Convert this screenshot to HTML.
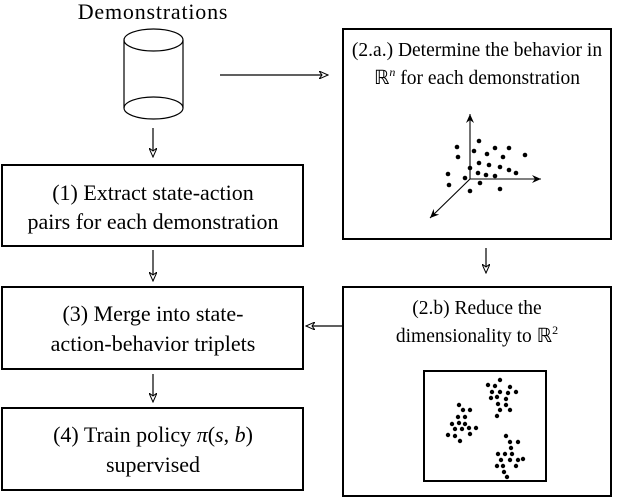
<!DOCTYPE html>
<html><head><style>html,body{margin:0;padding:0;background:#fff}</style></head><body>
<svg width="630" height="498" viewBox="0 0 630 498" xmlns="http://www.w3.org/2000/svg" font-family="Liberation Serif, serif" fill="none" stroke="#000">
<defs><marker id="a" markerWidth="10" markerHeight="8" refX="9" refY="4" orient="auto" markerUnits="userSpaceOnUse"><path d="M0,0 L9,4 L0,8 L3,4 Z" fill="#fff" stroke="#000" stroke-width="1"/></marker>
<marker id="b" markerWidth="10" markerHeight="8" refX="9" refY="4" orient="auto" markerUnits="userSpaceOnUse"><path d="M0,0 L9,4 L0,8 L3,4 Z" fill="#000" stroke="none"/></marker></defs>
<g stroke-width="1.2">
<text x="153" y="19" font-size="22" letter-spacing="0.8" fill="#000" stroke="none" text-anchor="middle">Demonstrations</text>
<path d="M124,40 V108 M183,40 V108" />
<ellipse cx="153.5" cy="40" rx="29.5" ry="11"/>
<path d="M124,108 A29.5,11 0 0 0 183,108"/>
<path d="M124,108 A29.5,11 0 0 1 183,108" />
<line x1="153" y1="128" x2="153" y2="157" marker-end="url(#a)"/>
<line x1="220" y1="75" x2="328" y2="75" marker-end="url(#a)"/>
<line x1="486" y1="248" x2="486" y2="273" marker-end="url(#a)"/>
<line x1="343" y1="326" x2="306" y2="326" marker-end="url(#a)"/>
<line x1="153" y1="250" x2="153" y2="281" marker-end="url(#a)"/>
<line x1="153" y1="374" x2="153" y2="402" marker-end="url(#a)"/>
</g>
<g stroke-width="2">
<rect x="2" y="165" width="301" height="81"/>
<rect x="2" y="287" width="301" height="82"/>
<rect x="2" y="408" width="301" height="82"/>
<rect x="343" y="29" width="268" height="210"/>
<rect x="343" y="287" width="268" height="209"/>
<rect x="424" y="371" width="122" height="110"/>
</g>
<g fill="#000" stroke="none" font-size="22" text-anchor="middle">
<text x="153" y="200">(1) Extract state-action</text>
<text x="153" y="229">pairs for each demonstration</text>
<text x="153" y="321">(3) Merge into state-</text>
<text x="153" y="351">action-behavior triplets</text>
<text x="153" y="442">(4) Train policy <tspan font-style="italic">π</tspan>(<tspan font-style="italic">s</tspan>, <tspan font-style="italic">b</tspan>)</text>
<text x="153" y="472">supervised</text>
<g font-size="19.5">
<text x="477" y="56">(2.a.) Determine the behavior in</text>
<text x="477" y="84">ℝ<tspan font-size="12" dy="-8" font-style="italic">n</tspan><tspan dy="8"> for each demonstration</tspan></text>
<text x="477" y="314">(2.b) Reduce the</text>
<text x="477" y="342">dimensionality to ℝ<tspan font-size="12" dy="-8">2</tspan></text>
</g>
</g>
<g stroke-width="1.1">
<line x1="470" y1="179" x2="470" y2="114" marker-end="url(#b)"/>
<line x1="470" y1="179" x2="541" y2="179" marker-end="url(#b)"/>
<line x1="470" y1="179" x2="430" y2="218" marker-end="url(#b)"/>
</g>
<g fill="#000" stroke="none">
<circle cx="457" cy="147" r="2.3"/><circle cx="479" cy="141" r="2.3"/><circle cx="474" cy="151" r="2.3"/><circle cx="495" cy="148" r="2.3"/><circle cx="509" cy="148" r="2.3"/><circle cx="458" cy="157" r="2.3"/><circle cx="487" cy="154" r="2.3"/><circle cx="503" cy="157" r="2.3"/><circle cx="525" cy="155" r="2.3"/><circle cx="479" cy="163" r="2.3"/><circle cx="489" cy="165" r="2.3"/><circle cx="500" cy="167" r="2.3"/><circle cx="470" cy="168" r="2.3"/><circle cx="509" cy="170" r="2.3"/><circle cx="516" cy="173" r="2.3"/><circle cx="448" cy="174" r="2.3"/><circle cx="478" cy="173" r="2.3"/><circle cx="486" cy="175" r="2.3"/><circle cx="495" cy="176" r="2.3"/><circle cx="465" cy="178" r="2.3"/><circle cx="449" cy="185" r="2.3"/><circle cx="480" cy="183" r="2.3"/><circle cx="470" cy="191" r="2.3"/><circle cx="500" cy="189" r="2.3"/>
<circle cx="459" cy="405" r="2.2"/><circle cx="463" cy="410" r="2.2"/><circle cx="470" cy="410" r="2.2"/><circle cx="458" cy="417" r="2.2"/><circle cx="465" cy="417" r="2.2"/><circle cx="452" cy="424" r="2.2"/><circle cx="459" cy="423" r="2.2"/><circle cx="465" cy="424" r="2.2"/><circle cx="455" cy="429" r="2.2"/><circle cx="462" cy="429" r="2.2"/><circle cx="469" cy="428" r="2.2"/><circle cx="476" cy="428" r="2.2"/><circle cx="448" cy="435" r="2.2"/><circle cx="455" cy="436" r="2.2"/><circle cx="470" cy="434" r="2.2"/><circle cx="460" cy="441" r="2.2"/>
<circle cx="500" cy="380" r="2.2"/><circle cx="488" cy="385" r="2.2"/><circle cx="495" cy="386" r="2.2"/><circle cx="510" cy="387" r="2.2"/><circle cx="492" cy="392" r="2.2"/><circle cx="500" cy="392" r="2.2"/><circle cx="508" cy="393" r="2.2"/><circle cx="516" cy="392" r="2.2"/><circle cx="491" cy="398" r="2.2"/><circle cx="497" cy="397" r="2.2"/><circle cx="506" cy="399" r="2.2"/><circle cx="498" cy="404" r="2.2"/><circle cx="506" cy="405" r="2.2"/><circle cx="500" cy="410" r="2.2"/><circle cx="510" cy="410" r="2.2"/><circle cx="497" cy="416" r="2.2"/>
<circle cx="506" cy="436" r="2.2"/><circle cx="510" cy="442" r="2.2"/><circle cx="518" cy="442" r="2.2"/><circle cx="511" cy="448" r="2.2"/><circle cx="498" cy="454" r="2.2"/><circle cx="505" cy="454" r="2.2"/><circle cx="512" cy="454" r="2.2"/><circle cx="501" cy="460" r="2.2"/><circle cx="510" cy="460" r="2.2"/><circle cx="518" cy="460" r="2.2"/><circle cx="523" cy="459" r="2.2"/><circle cx="497" cy="466" r="2.2"/><circle cx="503" cy="466" r="2.2"/><circle cx="516" cy="466" r="2.2"/><circle cx="504" cy="472" r="2.2"/><circle cx="507" cy="477" r="2.2"/>
</g>
</svg>
</body></html>
